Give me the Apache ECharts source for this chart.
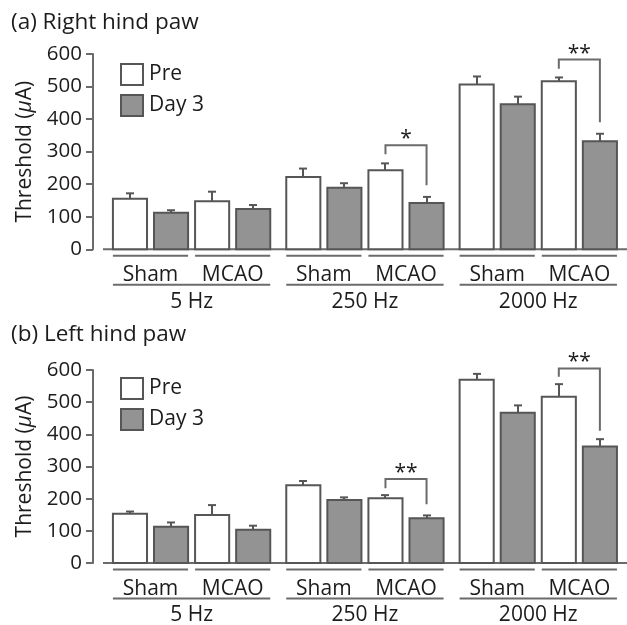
<!DOCTYPE html>
<html><head><meta charset="utf-8">
<script src="https://cdn.jsdelivr.net/npm/echarts@6/dist/echarts.min.js"></script>
<style>html,body{margin:0;padding:0;background:#fff}#c{width:627px;height:625px}</style>
</head><body><div id="c"></div>
<script>
// ---------------- data ----------------
const frequencies = ['5 Hz', '250 Hz', '2000 Hz'];
const groups = ['Sham', 'MCAO'];
const seriesNames = ['Pre', 'Day 3'];
const yTicks = [0, 100, 200, 300, 400, 500, 600];
const panelTitles = ['(a) Right hind paw', '(b) Left hind paw'];

// order: 5Hz Sham, 5Hz MCAO, 250Hz Sham, 250Hz MCAO, 2000Hz Sham, 2000Hz MCAO
const rightPre     = [155, 148, 222, 243, 506, 516];
const rightPreErr  = [17, 29, 26, 21, 25, 12];
const rightDay3    = [112, 124, 189, 142, 446, 332];
const rightDay3Err = [8, 12, 14, 19, 23, 23];
const rightSigGroup   = [3, 5];
const rightSigLabel   = ['*', '**'];
const rightSigTop     = [320, 583];
const rightSigPreEnd  = [292, 555];
const rightSigDay3End = [197, 390];

const leftPre     = [153, 149, 242, 201, 570, 517];
const leftPreErr  = [7, 31, 13, 10, 18, 39];
const leftDay3    = [113, 103, 196, 139, 467, 362];
const leftDay3Err = [13, 13, 8, 9, 23, 23];
const leftSigGroup   = [3, 5];
const leftSigLabel   = ['**', '**'];
const leftSigTop     = [261, 605];
const leftSigPreEnd  = [232, 579];
const leftSigDay3End = [183, 411];

// ---------------- layout / style ----------------
const FONT = '"Open Sans", "Noto Sans", sans-serif';
const TXT = '#1e1b1c';
const EDGE = '#565656';
const AXIS = '#6b6b6b';
const GRAY = '#939393';
const FREQ_STEP = 4.22, GROUP_STEP = 2, BAR_STEP = 1, BAR_W = 0.83;
function barX(i, s) { return Math.floor(i / 2) * FREQ_STEP + (i % 2) * GROUP_STEP + s * BAR_STEP; }

function barSeries(name, panel, vals, errs, s, fill) {
  return {
    type: 'custom', name: name, xAxisIndex: panel, yAxisIndex: panel,
    itemStyle: { color: fill, borderColor: EDGE, borderWidth: 2 },
    data: vals.map((v, i) => [barX(i, s), v, errs[i]]),
    renderItem: function (params, api) {
      const x = api.value(0), v = api.value(1), e = api.value(2);
      const p0 = api.coord([x - BAR_W / 2, 0]);
      const p1 = api.coord([x + BAR_W / 2, v]);
      const pt = api.coord([x, v]);
      const pe = api.coord([x, v + e]);
      const cx = Math.round(pt[0]);
      return { type: 'group', children: [
        { type: 'line', shape: { x1: cx, y1: pt[1], x2: cx, y2: pe[1] }, style: { stroke: EDGE, lineWidth: 2 } },
        { type: 'line', shape: { x1: cx - 4, y1: pe[1], x2: cx + 4, y2: pe[1] }, style: { stroke: EDGE, lineWidth: 2 } },
        { type: 'rect', shape: { x: p0[0], y: p1[1], width: p1[0] - p0[0], height: p0[1] - p1[1] },
          style: { fill: fill, stroke: EDGE, lineWidth: 2 } }
      ] };
    }
  };
}

function labelSeries(panel) {
  return {
    type: 'custom', xAxisIndex: panel, yAxisIndex: panel, silent: true,
    data: groups.concat(groups, groups).map((g, i) => [i]),
    renderItem: function (params, api) {
      const i = api.value(0);
      const cs = params.coordSys;
      const xa = barX(i, 0) - BAR_W / 2, xb = barX(i, 1) + BAR_W / 2;
      const pa = api.coord([xa, 0]), pb = api.coord([xb, 0]);
      const y0 = pa[1];
      const ch = [
        { type: 'line', shape: { x1: pa[0], y1: y0 + 6.5, x2: pb[0], y2: y0 + 6.5 }, style: { stroke: AXIS, lineWidth: 2 } },
        { type: 'text', style: { text: groups[i % 2], x: (pa[0] + pb[0]) / 2, y: y0 + 26, align: 'center', verticalAlign: 'middle',
          fill: TXT, fontSize: 21, fontFamily: FONT } }
      ];
      if (i % 2 === 0) {
        const pc = api.coord([barX(i + 1, 1) + BAR_W / 2, 0]);
        ch.push({ type: 'line', shape: { x1: pa[0], y1: y0 + 35.5, x2: pc[0], y2: y0 + 35.5 }, style: { stroke: AXIS, lineWidth: 2 } });
        ch.push({ type: 'text', style: { text: frequencies[Math.floor(i / 2)], x: (pa[0] + pc[0]) / 2, y: y0 + 52.5, align: 'center', verticalAlign: 'middle',
          fill: TXT, fontSize: 21, fontFamily: FONT } });
      }
      if (i === 0) {
        ch.push({ type: 'line', shape: { x1: cs.x + 10, y1: y0, x2: cs.x + cs.width, y2: y0 }, style: { stroke: AXIS, lineWidth: 2 } });
      }
      return { type: 'group', children: ch };
    }
  };
}

function sigSeries(panel, gIdx, labels, top, preEnd, dayEnd) {
  return {
    type: 'custom', xAxisIndex: panel, yAxisIndex: panel, silent: true,
    data: gIdx.map((g, k) => [barX(g, 0), barX(g, 1), top[k], preEnd[k], dayEnd[k]]),
    renderItem: function (params, api) {
      const k = params.dataIndex;
      const a = api.coord([api.value(0), api.value(2)]);
      const b = api.coord([api.value(1), api.value(2)]);
      const ae = api.coord([api.value(0), api.value(3)]);
      const be = api.coord([api.value(1), api.value(4)]);
      return { type: 'group', children: [
        { type: 'polyline', shape: { points: [[ae[0], ae[1]], [a[0], a[1]], [b[0], b[1]], [be[0], be[1]]] },
          style: { stroke: AXIS, lineWidth: 2, fill: null } },
        { type: 'text', style: { text: labels[k], x: (a[0] + b[0]) / 2, y: a[1] - 6, align: 'center', verticalAlign: 'middle',
          fill: TXT, fontSize: 21, fontFamily: FONT } }
      ] };
    }
  };
}

function yAxisFor(panel) {
  return {
    gridIndex: panel, type: 'value', min: yTicks[0], max: yTicks[yTicks.length - 1], interval: 100,
    axisLine: { show: true, onZero: false, lineStyle: { color: AXIS, width: 2 } },
    axisTick: { show: true, length: 7, lineStyle: { color: AXIS, width: 2 } },
    axisLabel: { color: TXT, fontSize: 20.5, fontFamily: FONT, margin: 11 },
    splitLine: { show: false },
    name: '{n|Threshold (}{i|μ}{n|A)}', nameLocation: 'middle', nameGap: 54,
    nameTextStyle: { rich: {
      n: { fontSize: 21, fontFamily: FONT, color: TXT },
      i: { fontSize: 21, fontFamily: FONT, color: TXT, fontStyle: 'italic' } } }
  };
}

function legendFor(top) {
  return {
    orient: 'vertical', left: 115, top: top, itemWidth: 22, itemHeight: 21, itemGap: 8,
    selectedMode: false,
    textStyle: { color: TXT, fontSize: 21, fontFamily: FONT, padding: [0, 0, 0, 1] },
    data: [
      { name: seriesNames[0], icon: 'rect', itemStyle: { color: '#ffffff', borderColor: EDGE, borderWidth: 2 } },
      { name: seriesNames[1], icon: 'rect', itemStyle: { color: GRAY, borderColor: EDGE, borderWidth: 2 } }
    ]
  };
}

const chart = echarts.init(document.getElementById('c'), null, { renderer: 'canvas' });
chart.setOption({
  backgroundColor: '#ffffff',
  animation: false,
  title: [
    { text: panelTitles[0], left: 11, top: 11, padding: 0, textStyle: { color: TXT, fontSize: 22.5, fontWeight: 'normal', fontFamily: FONT } },
    { text: panelTitles[1], left: 11, top: 323, padding: 0, textStyle: { color: TXT, fontSize: 22.5, fontWeight: 'normal', fontFamily: FONT } }
  ],
  legend: [legendFor(58), legendFor(372)],
  grid: [
    { left: 93, right: 0, top: 54, height: 195.3 },
    { left: 93, right: 0, top: 370, height: 193 }
  ],
  xAxis: [
    { gridIndex: 0, type: 'value', min: -0.9, max: 12.1, show: false },
    { gridIndex: 1, type: 'value', min: -0.9, max: 12.1, show: false }
  ],
  yAxis: [yAxisFor(0), yAxisFor(1)],
  series: [
    labelSeries(0),
    barSeries(seriesNames[0], 0, rightPre, rightPreErr, 0, '#ffffff'),
    barSeries(seriesNames[1], 0, rightDay3, rightDay3Err, 1, GRAY),
    sigSeries(0, rightSigGroup, rightSigLabel, rightSigTop, rightSigPreEnd, rightSigDay3End),
    labelSeries(1),
    barSeries(seriesNames[0], 1, leftPre, leftPreErr, 0, '#ffffff'),
    barSeries(seriesNames[1], 1, leftDay3, leftDay3Err, 1, GRAY),
    sigSeries(1, leftSigGroup, leftSigLabel, leftSigTop, leftSigPreEnd, leftSigDay3End)
  ]
});
</script></body></html>
